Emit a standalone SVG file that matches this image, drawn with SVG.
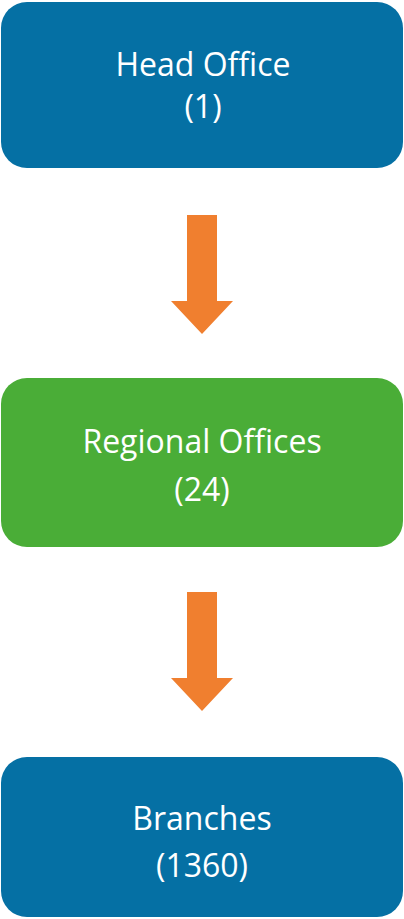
<svg xmlns="http://www.w3.org/2000/svg" width="404" height="919" viewBox="0 0 404 919">
<style>
.box{stroke:none}
.blue{fill:#0570a4}
.green{fill:#4aad37}
.arrow{fill:#f07f2f}
.t{font-family:"Open Sans","Noto Sans",sans-serif;font-size:32px;fill:#ffffff;text-anchor:middle}
</style>
<rect width="404" height="919" fill="#ffffff"/>
<g id="head-office">
<rect class="box blue" x="1" y="2" width="402" height="166" rx="26"/>
<text class="t" x="203" y="76">Head Office</text>
<text class="t" x="203" y="118">(1)</text>
</g>
<g id="regional-offices">
<rect class="box green" x="1" y="378" width="402" height="169" rx="26"/>
<text class="t" x="202" y="453">Regional Offices</text>
<text class="t" x="202" y="501">(24)</text>
</g>
<g id="branches">
<rect class="box blue" x="1" y="757" width="402" height="160" rx="26"/>
<text class="t" x="202" y="830">Branches</text>
<text class="t" x="202" y="877">(1360)</text>
</g>
<g id="connectors">
<polygon class="arrow" points="187,215 217,215 217,301 233,301 202,334 171,301 187,301"/>
<polygon class="arrow" points="187,592 217,592 217,678 233,678 202,711 171,678 187,678"/>
</g>
</svg>
